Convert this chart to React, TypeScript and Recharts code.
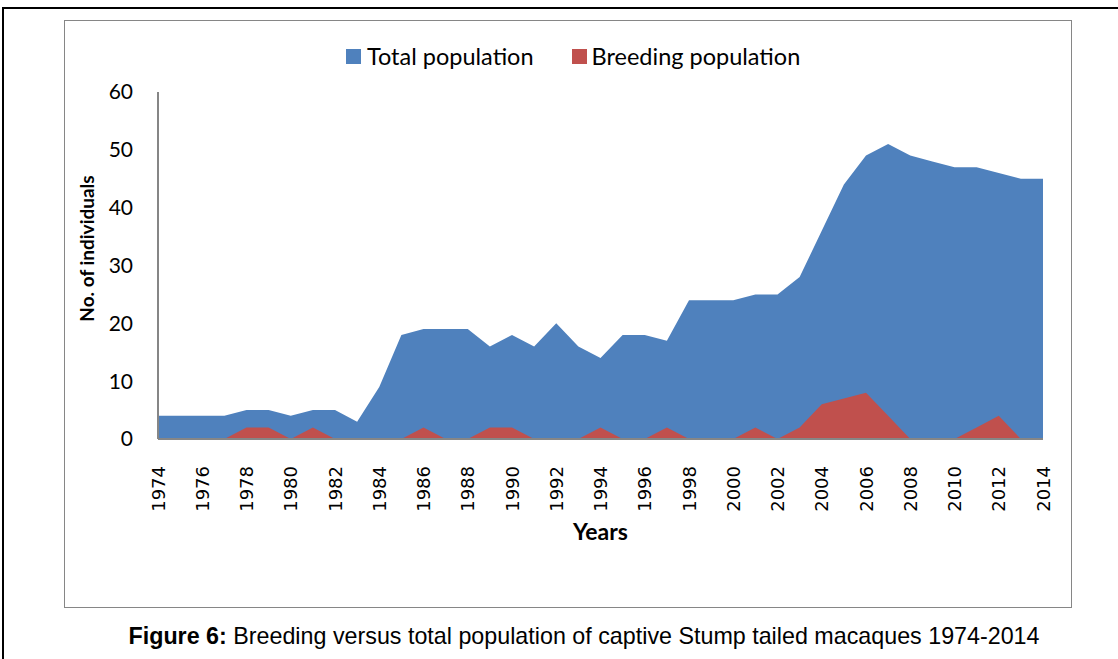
import React from 'react';
import { AreaChart, Area, XAxis, YAxis, Legend } from 'recharts';

const years = [
  '1974', '1975', '1976', '1977', '1978', '1979', '1980', '1981', '1982', '1983',
  '1984', '1985', '1986', '1987', '1988', '1989', '1990', '1991', '1992', '1993',
  '1994', '1995', '1996', '1997', '1998', '1999', '2000', '2001', '2002', '2003',
  '2004', '2005', '2006', '2007', '2008', '2009', '2010', '2011', '2012', '2013',
  '2014',
];
const totalPopulation = [
  4, 4, 4, 4, 5, 5, 4, 5, 5, 3,
  9, 18, 19, 19, 19, 16, 18, 16, 20, 16,
  14, 18, 18, 17, 24, 24, 24, 25, 25, 28,
  36, 44, 49, 51, 49, 48, 47, 47, 46, 45,
  45,
];
const breedingPopulation = [
  0, 0, 0, 0, 2, 2, 0, 2, 0, 0,
  0, 0, 2, 0, 0, 2, 2, 0, 0, 0,
  2, 0, 0, 2, 0, 0, 0, 2, 0, 2,
  6, 7, 8, 4, 0, 0, 0, 2, 4, 0,
  0,
];
const yTicks = [0, 10, 20, 30, 40, 50, 60];

const BLUE = '#4F81BD';
const RED = '#C0504D';
const AXIS = '#868686';
const LABEL_FONT = 'Lato, "Open Sans", sans-serif';

const data = years.map((year, i) => ({
  year,
  total: totalPopulation[i],
  breeding: breedingPopulation[i],
}));

const YearTick = ({ x, y, payload }: any) => (
  <text
    x={x}
    y={y + 19}
    transform={`rotate(-90, ${x}, ${y + 19})`}
    textAnchor="end"
    dominantBaseline="central"
    fontFamily='"DejaVu Sans", sans-serif'
    fontSize={18}
    fill="#000"
  >
    {payload.value}
  </text>
);

const YLabel = ({ viewBox }: any) => {
  const cx = viewBox.x - 12;
  const cy = viewBox.y + viewBox.height / 2 - 17;
  return (
    <text
      x={cx}
      y={cy}
      transform={`rotate(-90, ${cx}, ${cy})`}
      textAnchor="middle"
      dominantBaseline="central"
      fontFamily={LABEL_FONT}
      fontWeight="bold"
      fontSize={19}
      fill="#000"
    >
      No. of individuals
    </text>
  );
};

const XLabel = ({ viewBox }: any) => (
  <text
    x={viewBox.x + viewBox.width / 2}
    y={531}
    textAnchor="middle"
    dominantBaseline="central"
    fontFamily={LABEL_FONT}
    fontWeight="bold"
    fontSize={23}
    fill="#000"
  >
    Years
  </text>
);

const LegendContent = () => (
  <div style={{ display: 'flex', alignItems: 'center', fontFamily: LABEL_FONT, fontSize: 23.5, color: '#000', whiteSpace: 'nowrap' }}>
    <span style={{ width: 15, height: 15, background: BLUE, marginRight: 6 }} />
    <span style={{ marginRight: 38 }}>Total population</span>
    <span style={{ width: 15, height: 15, background: RED, marginRight: 5 }} />
    <span>Breeding population</span>
  </div>
);

export default function App() {
  return (
    <div style={{ position: 'absolute', left: 0, top: 0, width: 1118, height: 659, background: '#fff', overflow: 'hidden' }}>
      {/* outer page box */}
      <div style={{ position: 'absolute', left: 2, top: 7, width: 1130, height: 700, borderTop: '2px solid #000', borderLeft: '2px solid #000' }} />
      {/* chart frame */}
      <div style={{ position: 'absolute', left: 64, top: 20, width: 1006, height: 586, border: `1px solid ${AXIS}` }} />

      <div style={{ position: 'absolute', left: 0, top: 0 }}>
        <AreaChart
          width={1118}
          height={659}
          data={data}
          margin={{ top: 92, right: 75, bottom: 160, left: 98 }}
        >
          <XAxis
            dataKey="year"
            interval={1}
            axisLine={{ stroke: AXIS, strokeWidth: 2 }}
            tickLine={false}
            tick={<YearTick />}
            height={60}
            label={<XLabel />}
          />
          <YAxis
            domain={[0, 60]}
            ticks={yTicks}
            width={60}
            axisLine={{ stroke: AXIS, strokeWidth: 2 }}
            tickLine={false}
            tickMargin={19}
            tick={{ fill: '#000', fontSize: 21, fontFamily: LABEL_FONT }}
            label={<YLabel />}
          />
          <Legend
            layout="vertical"
            align="center"
            verticalAlign="middle"
            content={<LegendContent />}
            wrapperStyle={{ position: 'absolute', left: 346, top: 42, width: 'auto' }}
          />
          <Area
            type="linear"
            dataKey="total"
            name="Total population"
            stroke="none"
            fill={BLUE}
            fillOpacity={1}
            dot={false}
            activeDot={false}
            isAnimationActive={false}
          />
          <Area
            type="linear"
            dataKey="breeding"
            name="Breeding population"
            stroke="none"
            fill={RED}
            fillOpacity={1}
            dot={false}
            activeDot={false}
            isAnimationActive={false}
          />
        </AreaChart>
      </div>

      <div
        style={{
          position: 'absolute',
          left: 0,
          width: 1168,
          top: 622,
          textAlign: 'center',
          fontFamily: '"Liberation Sans Narrow", "Liberation Sans", Arial, sans-serif',
          fontSize: 24,
          color: '#000',
          transform: 'scaleX(0.97)',
          transformOrigin: '584px 0',
        }}
      >
        <b>Figure 6:</b> Breeding versus total population of captive Stump tailed macaques 1974-2014
      </div>
    </div>
  );
}
